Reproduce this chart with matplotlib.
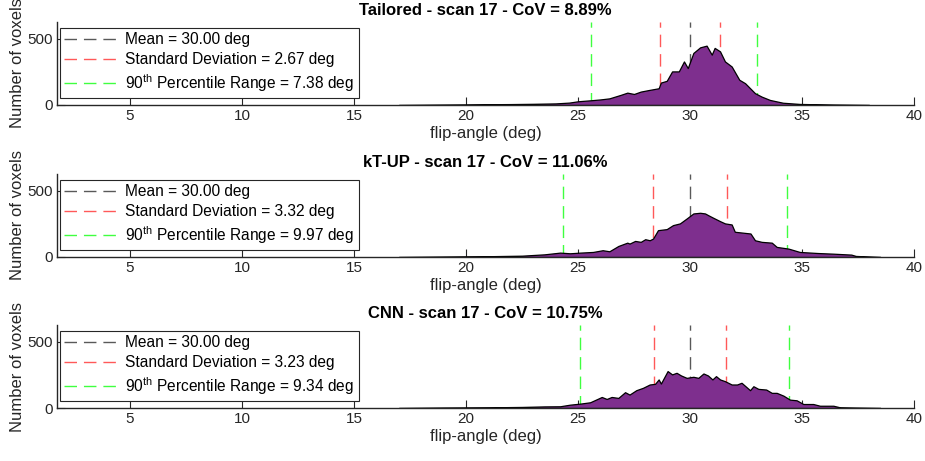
import matplotlib
matplotlib.use('Agg')
import matplotlib.pyplot as plt

plt.rcParams['font.family'] = ['Liberation Sans', 'DejaVu Sans']
plt.rcParams['mathtext.fontset'] = 'custom'
plt.rcParams['mathtext.rm'] = 'Liberation Sans'

# Data
titles = ['Tailored - scan 17 - CoV = 8.89%',
          'kT-UP - scan 17 - CoV = 11.06%',
          'CNN - scan 17 - CoV = 10.75%']
means = [30.00, 30.00, 30.00]
stds = [2.67, 3.32, 3.23]
p_low = [25.60, 24.35, 25.09]
p_range = [7.38, 9.97, 9.34]

x1 = [17.0, 18.5, 20.0, 21.0, 22.0, 23.0, 24.0, 24.6, 25.0, 25.6, 26.0, 26.4, 26.9, 27.2,
      27.5, 27.8, 28.2, 28.6, 28.7, 28.96, 29.2, 29.5, 29.73, 29.9, 30.15, 30.45, 30.74,
      30.97, 31.1, 31.34, 31.56, 31.86, 32.2, 32.46, 32.9, 33.2, 33.57, 34.15, 34.9, 36.4, 38.0]
y1 = [0, 2, 4, 6, 7, 9, 12, 18, 28, 36, 42, 50, 76, 93, 83, 101, 114, 126, 169, 182, 253,
      253, 328, 278, 392, 434, 447, 379, 430, 404, 328, 290, 190, 164, 89, 63, 38, 17, 8, 3, 0]

x2 = [17.0, 19.0, 21.0, 22.5, 23.5, 24.2, 24.64, 25.1, 25.67, 26.1, 26.4, 26.8, 27.2, 27.3,
      27.55, 27.8, 28.0, 28.2, 28.35, 28.57, 28.96, 29.24, 29.55, 29.85, 30.15, 30.45, 30.67,
      30.8, 31.03, 31.34, 31.56, 31.86, 32.0, 32.7, 32.9, 33.2, 33.65, 33.87, 34.4, 34.9,
      35.7, 36.4, 37.2, 37.4, 38.5]
y2 = [0, 3, 6, 10, 20, 33, 28, 33, 38, 51, 43, 83, 108, 101, 121, 114, 134, 126, 139, 202,
      210, 240, 253, 290, 328, 333, 328, 316, 296, 270, 253, 245, 190, 177, 126, 114, 108,
      76, 63, 38, 30, 25, 18, 8, 0]

x3 = [17.0, 19.0, 21.0, 22.5, 23.5, 24.2, 24.64, 25.1, 25.54, 26.06, 26.28, 26.5, 26.8, 27.1,
      27.3, 27.6, 27.9, 28.2, 28.44, 28.6, 28.7, 29.0, 29.2, 29.4, 29.6, 29.85, 30.15, 30.37,
      30.6, 30.8, 31.0, 31.16, 31.34, 31.56, 31.86, 32.1, 32.3, 32.68, 32.83, 33.05, 33.4,
      33.65, 33.87, 34.17, 34.46, 34.76, 35.06, 35.5, 35.8, 36.4, 36.7, 37.3, 38.5]
y3 = [0, 3, 5, 8, 12, 13, 25, 33, 43, 83, 68, 83, 76, 119, 101, 134, 152, 177, 182, 215,
      184, 278, 253, 265, 245, 227, 235, 227, 260, 245, 215, 240, 215, 202, 177, 177, 190,
      134, 164, 144, 139, 114, 114, 93, 63, 58, 30, 30, 17, 17, 5, 3, 0]

xs = [x1, x2, x3]
ys = [y1, y2, y3]

purple = (0.494, 0.184, 0.556)
axcol = (0.15, 0.15, 0.15)
c_mean = (0.35, 0.35, 0.35)
c_std = (1.0, 0.35, 0.35)
c_pct = (0.25, 1.0, 0.25)
ymax = 625

fig = plt.figure(figsize=(9.25, 4.61), dpi=100)
bottoms = [1 - 105 / 461, 1 - 257 / 461, 1 - 408 / 461]
left, width, height = 57 / 925, (914 - 57) / 925, 83 / 461

for i in range(3):
    ax = fig.add_axes([left, bottoms[i], width, height])
    m, s = means[i], stds[i]
    lo, hi = p_low[i], p_low[i] + p_range[i]
    dash = (9, 5)
    h1, = ax.plot([m, m], [0, ymax], color=c_mean, lw=1.0, dashes=dash,
                  label='Mean = %.2f deg' % m)
    h2, = ax.plot([m - s / 2, m - s / 2], [0, ymax], color=c_std, lw=1.0,
                  dashes=dash, label='Standard Deviation = %.2f deg' % s)
    ax.plot([m + s / 2, m + s / 2], [0, ymax], color=c_std, lw=1.0, dashes=dash)
    h3, = ax.plot([lo, lo], [0, ymax], color=c_pct, lw=1.0, dashes=dash,
                  label=r'90$^{\mathrm{th}}$ Percentile Range = %.2f deg' % p_range[i])
    ax.plot([hi, hi], [0, ymax], color=c_pct, lw=1.0, dashes=dash)
    ax.fill_between(xs[i], ys[i], color=purple, edgecolor='k', lw=0.9, zorder=3)

    ax.set_xlim(1.74, 40)
    ax.set_ylim(0, ymax)
    ax.set_xticks([5, 10, 15, 20, 25, 30, 35, 40])
    ax.set_yticks([0, 500])
    ax.spines['top'].set_visible(False)
    ax.spines['right'].set_visible(False)
    for sp in ['left', 'bottom']:
        ax.spines[sp].set_color(axcol)
        ax.spines[sp].set_linewidth(1.0)
        ax.spines[sp].set_zorder(4)
    ax.tick_params(direction='in', length=6, width=0.8, colors=axcol, labelsize=11,
                   labelcolor=axcol, pad=3)
    ax.set_title(titles[i], fontsize=12, fontweight='bold', pad=5)
    ax.set_xlabel('flip-angle (deg)', fontsize=12, color=axcol, labelpad=2)
    ax.set_ylabel('Number of voxels', fontsize=12, color=axcol, labelpad=2)
    leg = ax.legend(handles=[h1, h2, h3], loc='upper left', bbox_to_anchor=(0.003, 0.93),
                    fontsize=11.2, handlelength=3.6, handletextpad=0.3, labelspacing=0.3,
                    borderpad=0.3, borderaxespad=0, fancybox=False, framealpha=1)
    leg.get_frame().set_edgecolor(axcol)
    leg.get_frame().set_linewidth(0.8)
    leg.set_zorder(5)

fig.savefig('out.png', dpi=100)
